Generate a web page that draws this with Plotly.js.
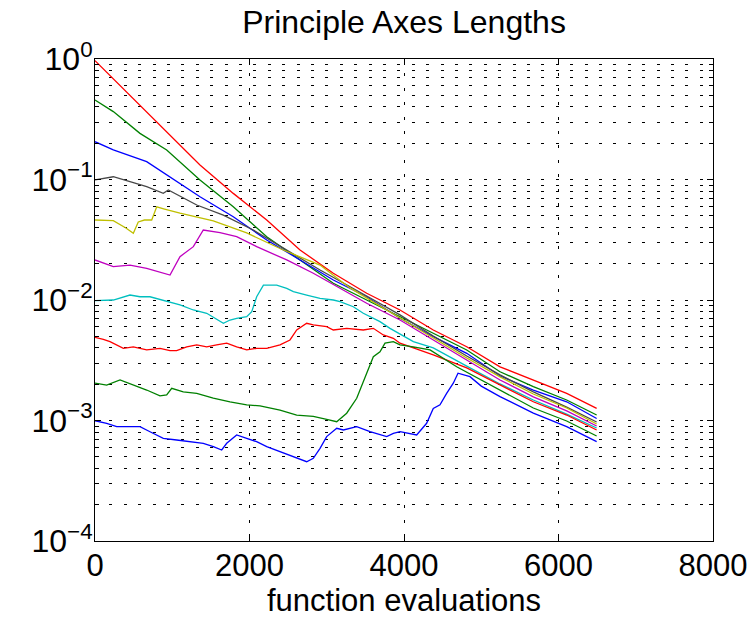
<!DOCTYPE html>
<html>
<head>
<meta charset="utf-8">
<script src="https://cdn.plot.ly/plotly-3.0.1.min.js"></script>
<style>
  html, body { margin: 0; padding: 0; background: #fff; }
  #chart { width: 750px; height: 623px; }
</style>
</head>
<body>
<div id="chart"></div>
<script>
// ---- data (function evaluations, axis length) ----
const x1 = [0, 700, 1359, 1790, 2223, 2654, 3085, 3517, 3948, 4379, 4812, 5243, 5674, 6106, 6494];
const y1 = [0.97, 0.350, 0.1318, 0.0767, 0.0461, 0.0260, 0.01667, 0.01138, 0.00826, 0.00564, 0.00409, 0.00279, 0.00217, 0.00168, 0.00126];

const x2 = [0, 237, 582, 928, 1359, 1790, 2223, 2654, 3085, 3517, 4121, 4379, 4812, 5243, 5674, 6106, 6494];
const y2 = [0.457, 0.366, 0.2415, 0.176, 0.0991, 0.0594, 0.0335, 0.0215, 0.01377, 0.0100, 0.00641, 0.00530, 0.00385, 0.00254, 0.00191, 0.00148, 0.00111];

const x3 = [0, 237, 669, 1100, 1359, 1790, 2223, 2654, 3085, 3517, 3948, 4379, 4812, 5243, 5674, 6106, 6494];
const y3 = [0.206, 0.176, 0.1406, 0.0929, 0.0720, 0.0491, 0.0315, 0.0215, 0.01466, 0.01064, 0.00705, 0.00496, 0.00361, 0.00234, 0.00179, 0.00143, 0.00104];

const x4 = [0, 237, 453, 669, 884, 949, 1317, 1661, 2049, 2482, 2913, 3517, 3948, 4379, 4812, 5243, 5674, 6106, 6494];
const y4 = [0.0991, 0.1054, 0.0959, 0.0871, 0.0768, 0.0818, 0.0614, 0.0507, 0.0381, 0.0260, 0.01774, 0.01079, 0.00752, 0.00503, 0.00343, 0.00239, 0.00173, 0.00129, 0.000972];

const x5 = [0, 237, 400, 496, 560, 640, 734, 799, 900, 1100, 1531, 1964, 2437, 2913, 3300, 3517, 3948, 4379, 4812, 5243, 5674, 6106, 6494];
const y5 = [0.0461, 0.0455, 0.0396, 0.0358, 0.0444, 0.0461, 0.0461, 0.0594, 0.0569, 0.0525, 0.0453, 0.0360, 0.0260, 0.0195, 0.0126, 0.01039, 0.00710, 0.00484, 0.00330, 0.00230, 0.00166, 0.00127, 0.000935];

const x6 = [0, 237, 453, 669, 971, 1100, 1273, 1402, 1618, 1834, 2093, 2482, 2826, 3214, 3517, 3948, 4379, 4812, 5243, 5674, 6106, 6494];
const y6 = [0.0215, 0.0189, 0.0195, 0.0183, 0.0161, 0.0229, 0.0277, 0.0381, 0.0362, 0.0335, 0.0277, 0.0215, 0.01667, 0.01211, 0.00939, 0.00682, 0.00466, 0.00318, 0.00217, 0.00157, 0.00120, 0.000900];

const x7 = [0, 237, 453, 582, 712, 928, 1100, 1273, 1446, 1662, 1748, 1834, 1964, 2029, 2093, 2180, 2352, 2482, 2568, 2740, 2913, 3085, 3172, 3344, 3473, 3689, 3819, 4121, 4379, 4812, 5243, 5674, 6106, 6494];
const y7 = [0.00987, 0.0100, 0.0110, 0.01064, 0.01064, 0.00968, 0.00909, 0.00826, 0.00776, 0.00641, 0.00682, 0.00705, 0.00727, 0.00800, 0.01064, 0.0133, 0.0133, 0.0125, 0.01172, 0.0110, 0.01033, 0.0100, 0.00968, 0.00879, 0.00776, 0.00661, 0.00582, 0.00451, 0.0040, 0.00283, 0.00201, 0.00148, 0.00113, 0.000867];

const x8 = [0, 108, 194, 281, 367, 496, 669, 841, 971, 1057, 1187, 1317, 1446, 1575, 1705, 1834, 1964, 2093, 2223, 2395, 2524, 2611, 2740, 2826, 2999, 3085, 3258, 3473, 3603, 3732, 3862, 3948, 4379, 4812, 5243, 5674, 6106, 6494];
const y8 = [0.00490, 0.00472, 0.00451, 0.00424, 0.00397, 0.00409, 0.00385, 0.00397, 0.00380, 0.00380, 0.00409, 0.00424, 0.00409, 0.00424, 0.00438, 0.00409, 0.00385, 0.00397, 0.00397, 0.00424, 0.00466, 0.00564, 0.00641, 0.00621, 0.00600, 0.00564, 0.00582, 0.00564, 0.00582, 0.00513, 0.00481, 0.00438, 0.0035, 0.00273, 0.00197, 0.00143, 0.00111, 0.000834];

const x9 = [0, 151, 324, 496, 669, 841, 928, 993, 1143, 1317, 1531, 1748, 1964, 2136, 2395, 2611, 2826, 2999, 3129, 3258, 3388, 3517, 3603, 3689, 3754, 3862, 3948, 4121, 4337, 4682, 5243, 5674, 6106, 6494];
const y9 = [0.00204, 0.00197, 0.00217, 0.00197, 0.00179, 0.00160, 0.00163, 0.00185, 0.00173, 0.00168, 0.00153, 0.00143, 0.00135, 0.00132, 0.00122, 0.00111, 0.00108, 0.00102, 0.000977, 0.00115, 0.00153, 0.00247, 0.00338, 0.00372, 0.00438, 0.00451, 0.00424, 0.00409, 0.00385, 0.00279, 0.00179, 0.00127, 0.000991, 0.000744];

const x10 = [0, 151, 281, 410, 582, 712, 884, 1057, 1230, 1402, 1532, 1640, 1705, 1834, 1964, 2093, 2223, 2395, 2568, 2740, 2826, 2913, 2999, 3129, 3215, 3388, 3560, 3776, 3862, 3948, 4164, 4293, 4379, 4466, 4552, 4638, 4699, 4854, 5000, 5243, 5674, 6106, 6494];
const y10 = [0.000996, 0.000948, 0.000889, 0.000889, 0.000889, 0.000807, 0.000711, 0.000689, 0.000667, 0.000647, 0.000607, 0.000569, 0.000647, 0.000759, 0.000711, 0.000667, 0.000607, 0.000551, 0.000501, 0.000455, 0.000485, 0.000588, 0.000735, 0.000861, 0.000834, 0.000889, 0.000807, 0.000735, 0.000783, 0.000807, 0.000759, 0.000948, 0.00126, 0.00135, 0.00168, 0.00204, 0.00247, 0.00231, 0.00193, 0.00158, 0.00115, 0.000889, 0.000667];

const seriesColors = ['#ff0000', '#008000', '#0000ff', '#484848', '#bfbf00', '#bf00bf', '#00bfbf', '#ff0000', '#008000', '#0000ff'];

const xTickVals = [0, 2000, 4000, 6000, 8000];
const xTickText = ['0', '2000', '4000', '6000', '8000'];
const yTickVals = [1e-4, 1e-3, 1e-2, 1e-1, 1];
const yTickText = ['10<sup>\u22124</sup>', '10<sup>\u22123</sup>', '10<sup>\u22122</sup>', '10<sup>\u22121</sup>', '10<sup>0</sup>'];

// minor log ticks (2..9 in each decade)
const yMinorVals = [];
for (let d = -4; d < 0; d++) {
  for (let m = 2; m <= 9; m++) yMinorVals.push(m * Math.pow(10, d));
}

const xs = [x1, x2, x3, x4, x5, x6, x7, x8, x9, x10];
const ys = [y1, y2, y3, y4, y5, y6, y7, y8, y9, y10];

const traces = xs.map((xx, i) => ({
  x: xx, y: ys[i], type: 'scatter', mode: 'lines',
  line: { color: seriesColors[i], width: 1.3 },
  hoverinfo: 'skip', showlegend: false
}));

const FONT = 'Liberation Sans, Arial, sans-serif';
const gridDash = '3px,11.4px';

const layout = {
  width: 750, height: 623,
  margin: { l: 95, r: 37, t: 59, b: 82, pad: 0 },
  paper_bgcolor: '#fff', plot_bgcolor: '#fff',
  font: { family: FONT, color: '#000', size: 31 },
  showlegend: false,
  title: {
    text: 'Principle Axes Lengths',
    font: { family: FONT, size: 32, color: '#000' },
    xref: 'paper', x: 0.5, xanchor: 'center',
    yref: 'container', y: 1 - 22 / 623, yanchor: 'middle'
  },
  xaxis: {
    range: [0, 8000], tickmode: 'array', tickvals: xTickVals, ticktext: xTickText,
    ticks: 'inside', ticklen: 6, tickcolor: '#000', tickwidth: 1,
    showline: true, linecolor: '#000', linewidth: 1, mirror: 'ticks',
    showgrid: true, gridcolor: '#000', gridwidth: 1, griddash: gridDash,
    zeroline: false, fixedrange: true,
    tickfont: { family: FONT, size: 31, color: '#000' },
    ticklabelstandoff: -3,
    title: { text: 'function evaluations', font: { family: FONT, size: 31, color: '#000' }, standoff: 6 },
    automargin: false
  },
  yaxis: {
    type: 'log', range: [-4, 0], tickmode: 'array', tickvals: yTickVals, ticktext: yTickText,
    ticks: 'inside', ticklen: 6, tickcolor: '#000', tickwidth: 1,
    showline: true, linecolor: '#000', linewidth: 1, mirror: 'ticks',
    showgrid: true, gridcolor: '#000', gridwidth: 1, griddash: gridDash,
    zeroline: false, fixedrange: true,
    tickfont: { family: FONT, size: 32, color: '#000' },
    ticklabelstandoff: -5,
    minor: {
      tickmode: 'array', tickvals: yMinorVals,
      ticks: 'inside', ticklen: 4, tickcolor: '#000', tickwidth: 1,
      showgrid: true, gridcolor: '#000', gridwidth: 1, griddash: gridDash
    },
    automargin: false
  }
};

Plotly.newPlot('chart', traces, layout, { staticPlot: true, displayModeBar: false });
</script>
</body>
</html>
